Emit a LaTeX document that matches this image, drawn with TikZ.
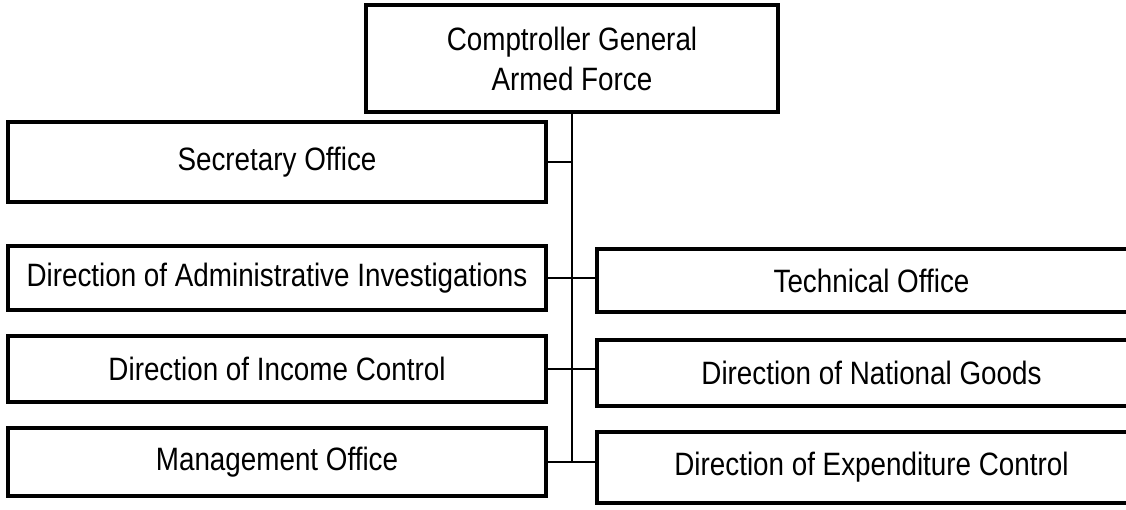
\documentclass[tikz,border=0pt]{standalone}
\usepackage{fontspec}
\setmainfont[FakeStretch=0.86]{Liberation Sans}
\newcommand{\unitfont}{\fontsize{23}{28.5}\selectfont}

\begin{document}
\begin{tikzpicture}[x=0.025cm, y=-0.025cm,
                    unit node/.style={rectangle,draw,line width=2.8pt,inner sep=0pt,
                                      align=center,font=\unitfont},
                    left node/.style={unit node,minimum width=13.45cm},
                    right node/.style={unit node,minimum width=13.725cm},
                    link/.style={line width=1.3pt}]

  \useasboundingbox (0,0) rectangle (1126,510);

  \node[unit node,minimum width=10.3cm,minimum height=2.675cm] (cg) at (572,58.5)
       {Comptroller General\\Armed Force};

  \node[left node,minimum height=2cm]    (sec) at (277,162) {Secretary Office};
  \node[left node,minimum height=1.6cm]  (dai) at (277,278) {Direction of Administrative Investigations};
  \node[left node,minimum height=1.65cm] (inc) at (277,369) {Direction of Income Control};
  \node[left node,minimum height=1.7cm]  (mgt) at (277,462) {Management Office};

  \node[right node,minimum height=1.575cm] (tec) at (871.5,280.5) {Technical Office};
  \node[right node,minimum height=1.65cm]  (nat) at (871.5,373)   {Direction of National Goods};
  \node[right node,minimum height=1.775cm] (exp) at (871.5,467.5) {Direction of Expenditure Control};

  % trunk and branches
  \draw[link] (cg.south) -- (cg.south |- mgt.east);
  \draw[link] (sec.east) -- (sec.east -| cg.south);
  \draw[link] (dai.east) -- (tec.west |- dai.east);
  \draw[link] (inc.east) -- (nat.west |- inc.east);
  \draw[link] (mgt.east) -- (exp.west |- mgt.east);

\end{tikzpicture}
\end{document}
